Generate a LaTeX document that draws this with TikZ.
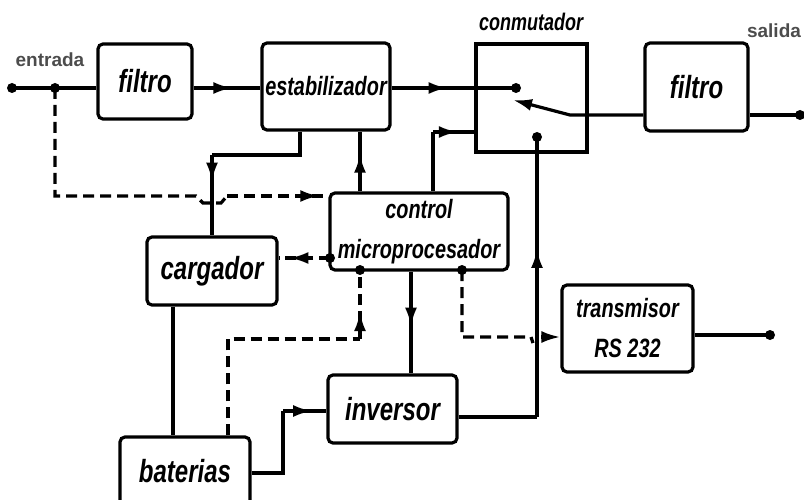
\documentclass[tikz,border=0pt]{standalone}
\usepackage{fontspec}
\newfontfamily\blkfont[FakeStretch=0.75]{Liberation Sans}
\newfontfamily\lblfont{Liberation Sans}
\usetikzlibrary{arrows.meta}
\usetikzlibrary{decorations.markings}

\tikzset{
  blk/.style={draw, line width=3.2pt, rounded corners=5pt, align=center, inner sep=0pt,
    font=\blkfont\bfseries\itshape\fontsize{26.5}{40}\selectfont},
  bigtxt/.style={font=\blkfont\bfseries\itshape\fontsize{32}{36}\selectfont},
  lbl/.style={font=\lblfont\bfseries\fontsize{19}{20}\selectfont, text=black!70},
  ln/.style={line width=3.2pt},
  sig/.style={line width=3.2pt, dash pattern=on 11pt off 6pt},
  arrowat/.style={postaction={decorate,decoration={markings,
    mark=at position #1 with {\arrow{Latex[length=19pt,width=12pt]}}}}},
  endtip/.style={-{Latex[length=19pt,width=12pt]}},
  jn/.style={circle, fill, inner sep=0pt, minimum size=10pt},
}

\begin{document}
\begin{tikzpicture}[x=1pt,y=-1pt]
    \clip (0,0) rectangle (804,500);
    \node[blk, bigtxt, minimum width=94pt, minimum height=75pt] (filtroA) at (145,81.5) {filtro};
    \node[blk, minimum width=128pt, minimum height=87pt] (estab) at (326,86.5) {estabilizador};
    \node[draw, line width=3.2pt, minimum width=111pt, minimum height=108pt] (conm) at (531.5,98) {};
    \node[blk, draw=none, font=\blkfont\bfseries\itshape\fontsize{24}{26}\selectfont] (conmlbl) at (531,22) {conmutador};
    \node[blk, bigtxt, minimum width=103pt, minimum height=88pt] (filtroB) at (696.5,87) {filtro};
    \node[blk, minimum width=178pt, minimum height=77pt] (ctrl) at (419,231.5) {control\\microprocesador};
    \node[blk, bigtxt, minimum width=130pt, minimum height=68pt] (carg) at (212,271) {cargador};
    \node[blk, minimum width=131pt, minimum height=87pt] (trans) at (627.5,328.5) {transmisor\\RS 232};
    \node[blk, bigtxt, minimum width=129pt, minimum height=68pt] (inv) at (392.5,409) {inversor};
    \node[blk, bigtxt, minimum width=130pt, minimum height=68pt] (bat) at (185,471) {baterias};
    \node[lbl] (entr) at (50,60) {entrada};
    \node[lbl] (sal) at (774,31) {salida};

    \coordinate (in) at (12,88);
    \coordinate (tap) at (55,88);
    \coordinate (swA) at (516,88);
    \coordinate (swB) at (570,115);
    \coordinate (swT) at (513,100);
    \coordinate (out) at (800,115);
    \coordinate (swC) at (537,137);
    \coordinate (rsout) at (770,335);
    \coordinate (cL) at (330,258);
    \coordinate (cB1) at (360,270);
    \coordinate (cB2) at (462,270);
    \coordinate (kA) at (433,132);
    \coordinate (kB) at (300,155);
    \coordinate (kT) at (55,196);
    \coordinate (jA) at (196,196);
    \coordinate (jB) at (203,203);
    \coordinate (jC) at (221,203);
    \coordinate (jD) at (227,196);
    \coordinate (kC) at (228,339);
    \coordinate (kD) at (411,300);
    \coordinate (kE) at (462,337);
    \coordinate (jE) at (531,337);
    \coordinate (jF) at (533,343);
    \coordinate (jG) at (541,337);
    \coordinate (kF) at (173,380);
    \coordinate (kG) at (283,473);
    \coordinate (kH) at (283,411);
    \coordinate (kI) at (537,417);

    \draw[ln] (in) -- (in -| filtroA.west);
    \draw[ln, arrowat=0.58] (in -| filtroA.east) -- (in -| estab.west);
    \draw[ln, arrowat=0.45] (in -| estab.east) -- (swA);
    \draw[ln, endtip] (swB -| filtroB.west) -- (swB) -- (swT);
    \draw[ln] (swB -| filtroB.east) -- (out);

    \draw[ln] (ctrl.north -| kA) -- (kA);
    \draw[ln, arrowat=0.6] (kA) -- (kA -| conm.west);
    \draw[ln, arrowat=0.63] (ctrl.north -| cB1) -- (estab.south -| cB1);
    \draw[ln] (estab.south -| kB) -- (kB) -- (kB -| carg.north);
    \draw[ln, arrowat=0.33] (kB -| carg.north) -- (carg.north);

    \draw[sig] (tap) -- (kT) -- (jA) -- (jB) -- (jC) -- (jD);
    \draw[sig, arrowat=0.91] (jD) -- (kT -| ctrl.west);
    \draw[sig, arrowat=0.79] (cL) -- (cL -| carg.east);
    \draw[sig] (bat.north -| kC) -- (kC) -- (kC -| cB1);
    \draw[sig, arrowat=0.39] (kC -| cB1) -- (cB1);
    \draw[sig] (cB2) -- (kE) -- (jE) -- (jF);
    \draw[ln, endtip] (jG) -- (kE -| trans.west);

    \draw[ln, arrowat=0.54] (ctrl.south -| kD) -- (inv.north -| kD);
    \draw[ln] (rsout -| trans.east) -- (rsout);
    \draw[ln] (carg.south -| kF) -- (bat.north -| kF);
    \draw[ln] (kG -| bat.east) -- (kG) -- (kH);
    \draw[ln, arrowat=0.67] (kH) -- (kH -| inv.west);
    \draw[ln] (kI -| inv.east) -- (kI);
    \draw[ln, arrowat=0.6] (kI) -- (swC);

    \foreach \p/\n in {in/d1, tap/d2, swA/d3, swC/d4, out/d5, rsout/d6, cL/d7, cB1/d8, cB2/d9}
      \node[jn] (\n) at (\p) {};
\end{tikzpicture}
\end{document}
